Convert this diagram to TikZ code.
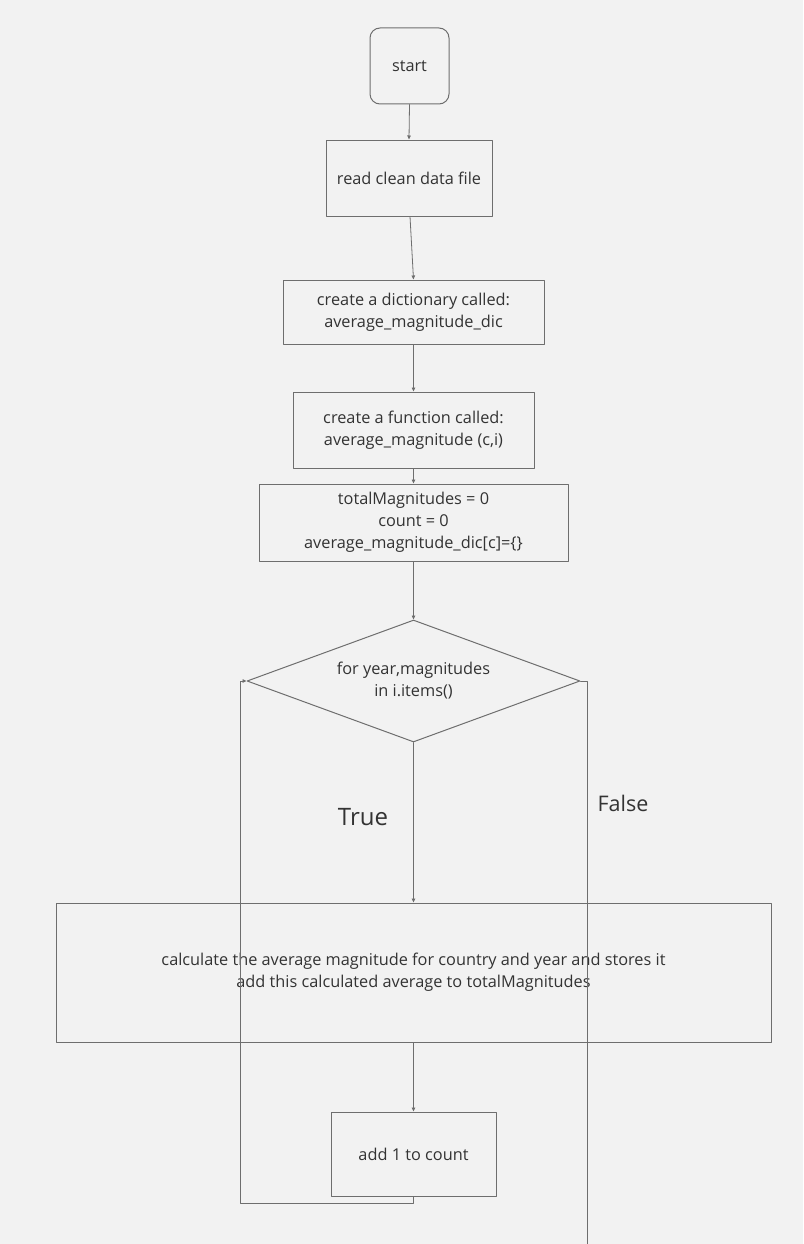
\documentclass[tikz,border=0pt]{standalone}
\usepackage{fontspec}
\setmainfont{Open Sans}
\usetikzlibrary{arrows.meta}
\usetikzlibrary{shapes.geometric}
\definecolor{bgcol}{HTML}{F2F2F2}
\definecolor{linecol}{HTML}{6E6E6E}
\definecolor{txtcol}{HTML}{333333}
\tikzset{
  box/.style={draw=linecol,line width=1pt,rectangle,inner sep=0pt,align=center,text=txtcol,font=\fontsize{16.3}{22}\selectfont},
  roundbox/.style={box,rounded corners=10pt},
  decision/.style={box,diamond,aspect=2.7},
  flow/.style={->,draw=linecol,line width=0.8pt}
}
\begin{document}
\begin{tikzpicture}[line cap=round,line join=round,>={Triangle[length=4pt,width=3.5pt]},x=1pt,y=-1pt]
      \fill[bgcol] (0,0) rectangle (803,1244);
      \useasboundingbox (0,0) rectangle (803,1244);
      % boxes
      \node[roundbox,minimum width=79pt,minimum height=76pt] (start) at (409.5,66) {start};
      \node[box,minimum width=166pt,minimum height=76pt] (read) at (409,178) {read clean data file};
      \node[box,minimum width=261pt,minimum height=64pt] (dic) at (413.5,312) {create a dictionary called:\\average\_magnitude\_dic};
      \node[box,minimum width=241pt,minimum height=76pt] (func) at (413.5,430) {create a function called:\\average\_magnitude (c,i)};
      \node[box,minimum width=309pt,minimum height=77pt] (init) at (413.5,522.5) {totalMagnitudes = 0\\count = 0\\average\_magnitude\_dic[c]=\{\}};
      \node[decision,minimum width=333pt,minimum height=122pt] (loop) at (413.5,681) {for year,magnitudes\\in i.items()};
      \node[box,minimum width=715pt,minimum height=139pt] (calc) at (413.5,972.5) {calculate the average magnitude for country and year and stores it\\add this calculated average to totalMagnitudes};
      \node[box,minimum width=165pt,minimum height=84pt] (add) at (413.5,1154) {add 1 to count};
      \coordinate (loopback) at (240,1203);
      \coordinate (falseend) at (587,1250);
      % labels
      \node[text=txtcol,font=\fontsize{24}{28}\selectfont] (truelbl) at (363,817) {True};
      \node[text=txtcol,font=\fontsize{21.5}{26}\selectfont] (falselbl) at (623,803) {False};
      % connectors
      \draw[flow] (start.south) -- (read.north);
      \draw[flow] ([xshift=1pt]read.south) -- (dic.north);
      \draw[flow] (dic.south) -- (func.north);
      \draw[flow] (func.south) -- (init.north);
      \draw[flow] (init.south) -- (loop.north);
      \draw[flow] (loop.south) -- (calc.north);
      \draw[flow] (calc.south) -- (add.north);
      \draw[flow] (add.south) |- (loopback) |- (loop.west);
      \draw[draw=linecol,line width=0.8pt] (loop.east) -| (falseend);
\end{tikzpicture}
\end{document}
